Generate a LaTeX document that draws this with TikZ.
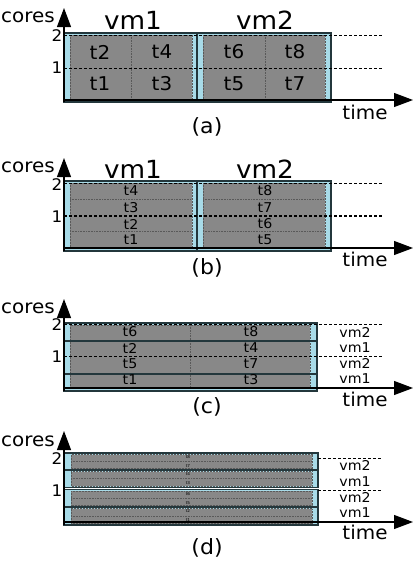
\documentclass[tikz,border=0pt]{standalone}
\usepackage{fontspec}
\setmainfont{DejaVu Sans}[FakeStretch=1.05]
\usetikzlibrary{arrows.meta}

\definecolor{vmblue}{RGB}{168,219,232}
\definecolor{taskgray}{RGB}{136,136,136}
\definecolor{edge}{RGB}{35,55,60}

\tikzset{
  vmbox/.style={draw=edge, line width=1.3pt, fill=vmblue},
  tasks/.style={fill=taskgray, draw=black!65, densely dotted, line width=0.5pt},
  split/.style={draw=black!65, densely dotted, line width=0.6pt},
  slotline/.style={draw=edge, line width=1.1pt},
  coreline/.style={draw=black, dash pattern=on 3pt off 2pt, line width=0.9pt},
  axis/.style={draw=black, line width=1.1pt, -{Triangle[length=19pt,width=14pt]}},
  axlabel/.style={inner sep=0pt, font=\fontsize{19}{19}\selectfont},
  corenum/.style={inner sep=0pt, font=\fontsize{16}{16}\selectfont},
  vmname/.style={inner sep=0pt, font=\fontsize{25}{25}\selectfont},
  vmside/.style={inner sep=0pt, font=\fontsize{13.5}{13.5}\selectfont},
  bigtask/.style={inner sep=0pt, font=\fontsize{19}{19}\selectfont},
  task/.style={inner sep=0pt, font=\fontsize{13.5}{13.5}\selectfont},
  tinytask/.style={inner sep=0pt, font=\fontsize{4}{4}\selectfont},
  caption/.style={inner sep=0pt, font=\fontsize{21}{21}\selectfont}
}

\begin{document}
\begin{tikzpicture}[x=1pt,y=-1pt]
\useasboundingbox[fill=white] (0,0) rectangle (415,563);

% ---------------- (a): two cores per vm, tasks side by side
\draw[vmbox] (64,33) rectangle (197,102);
\draw[vmbox] (197,33) rectangle (331,102);
\draw[tasks] (70,35) rectangle (192,100);
\draw[tasks] (203,35) rectangle (325,100);
\draw[split] (131,35) -- (131,100);
\draw[split] (265,35) -- (265,100);

\node[bigtask] (a1) at (100,84) {t1};
\node[bigtask] (a2) at (100,52) {t2};
\node[bigtask] (a3) at (162,84) {t3};
\node[bigtask] (a4) at (162,52) {t4};
\node[bigtask] (a5) at (234,84) {t5};
\node[bigtask] (a6) at (234,52) {t6};
\node[bigtask] (a7) at (295,84) {t7};
\node[bigtask] (a8) at (295,52) {t8};

\draw[coreline] (64,35) -- (382,35);
\draw[coreline] (64,68) -- (382,68);

\coordinate (a-o) at (64,102);
\coordinate (a-top) at (64,8);
\coordinate (a-x0) at (64,100);
\coordinate (a-end) at (413,100);
\draw[axis] (a-o) -- (a-top);
\draw[axis] (a-x0) -- (a-end);

\node[axlabel, anchor=east] (a-cores) at (55,17) {cores};
\node[axlabel] (a-time) at (365,112) {time};
\node[corenum] (a-two) at (57,36) {2};
\node[corenum] (a-one) at (57,68) {1};
\node[vmname] (a-vm1) at (133,20) {vm1};
\node[vmname] (a-vm2) at (265,20) {vm2};
\node[caption] (a-cap) at (207,127) {(a)};

% ---------------- (b): four time slices per vm
\draw[vmbox] (64,181) rectangle (197,251);
\draw[vmbox] (197,181) rectangle (331,251);
\draw[tasks] (70,183) rectangle (192,248);
\draw[tasks] (203,183) rectangle (325,248);
\foreach \y in {199.25,231.75} {
  \draw[split] (70,\y) -- (192,\y);
  \draw[split] (203,\y) -- (325,\y);
}

\foreach \y/\l/\r in {191/t4/t8, 207.5/t3/t7, 224/t2/t6, 240/t1/t5} {
  \node[task] (b-\l) at (131,\y) {\l};
  \node[task] (b-\r) at (265,\y) {\r};
}

\draw[coreline] (64,183) -- (382,183);
\draw[coreline, line width=1.2pt] (64,216) -- (382,216);

\coordinate (b-o) at (64,251);
\coordinate (b-top) at (64,158);
\coordinate (b-x0) at (64,248);
\coordinate (b-end) at (413,248);
\draw[axis] (b-o) -- (b-top);
\draw[axis] (b-x0) -- (b-end);

\node[axlabel, anchor=east] (b-cores) at (55,167) {cores};
\node[axlabel] (b-time) at (365,259) {time};
\node[corenum] (b-two) at (57,185) {2};
\node[corenum] (b-one) at (57,217) {1};
\node[vmname] (b-vm1) at (133,169) {vm1};
\node[vmname] (b-vm2) at (265,169) {vm2};
\node[caption] (b-cap) at (207,268) {(b)};

% ---------------- (c): vms interleaved on each core
\draw[vmbox] (64,323) rectangle (317,391);
\draw[tasks] (70,325) rectangle (310,388);
\draw[split] (190,325) -- (190,388);
\draw[slotline] (64,341) -- (317,341);
\draw[slotline] (64,374) -- (317,374);

\foreach \y/\l/\r in {332/t6/t8, 348/t2/t4, 364/t5/t7, 380/t1/t3} {
  \node[task] (c-\l) at (130,\y) {\l};
  \node[task] (c-\r) at (251,\y) {\r};
}
\node[vmside] (c-s4) at (355,332) {vm2};
\node[vmside] (c-s3) at (355,348) {vm1};
\node[vmside] (c-s2) at (355,363) {vm2};
\node[vmside] (c-s1) at (355,379) {vm1};

\draw[coreline] (64,324) -- (382,324);
\draw[coreline, line width=1.2pt] (64,356.5) -- (382,356.5);

\coordinate (c-o) at (64,391);
\coordinate (c-top) at (64,299);
\coordinate (c-x0) at (64,388);
\coordinate (c-end) at (413,388);
\draw[axis] (c-o) -- (c-top);
\draw[axis] (c-x0) -- (c-end);

\node[axlabel, anchor=east] (c-cores) at (55,308) {cores};
\node[axlabel] (c-time) at (365,399) {time};
\node[corenum] (c-two) at (57,325) {2};
\node[corenum] (c-one) at (57,357) {1};
\node[caption] (c-cap) at (207,407) {(c)};

% ---------------- (d): each vm slot split again in two
\foreach \t/\b/\hi/\lo in {453/470/t8/t7, 470/487.5/t4/t3, 489.5/507/t6/t5, 507/525/t2/t1} {
  \draw[vmbox] (64,\t) rectangle (318,\b);
  \draw[tasks] (71,{\t+1.5}) rectangle (312,{\b-1.5});
  \draw[split] (71,{(\t+\b)/2}) -- (312,{(\t+\b)/2});
  \node[tinytask] (d-\hi) at (188,{(3*\t+\b)/4}) {\hi};
  \node[tinytask] (d-\lo) at (188,{(\t+3*\b)/4}) {\lo};
}
\node[vmside] (d-s4) at (355,465) {vm2};
\node[vmside] (d-s3) at (355,482) {vm1};
\node[vmside] (d-s2) at (355,497) {vm2};
\node[vmside] (d-s1) at (355,513) {vm1};

\draw[coreline] (318,458) -- (382,458);
\draw[coreline] (318,490) -- (382,490);

\coordinate (d-o) at (64,525);
\coordinate (d-top) at (64,431);
\coordinate (d-x0) at (64,522);
\coordinate (d-end) at (413,522);
\draw[axis] (d-o) -- (d-top);
\draw[axis] (d-x0) -- (d-end);

\node[axlabel, anchor=east] (d-cores) at (55,441) {cores};
\node[axlabel] (d-time) at (365,532) {time};
\node[corenum] (d-two) at (57,459) {2};
\node[corenum] (d-one) at (57,491) {1};
\node[caption] (d-cap) at (207,548) {(d)};

\end{tikzpicture}
\end{document}
